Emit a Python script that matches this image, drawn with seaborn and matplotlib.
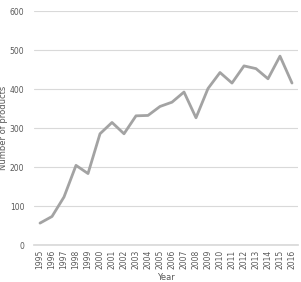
import pandas as pd
import matplotlib

matplotlib.use('Agg')
import matplotlib.pyplot as plt
import seaborn as sns

sns.set_theme(style="white")
plt.rcParams['font.family'] = ['DejaVu Sans']

years = [str(y) for y in range(1995, 2017)]
products = [57, 74, 124, 205, 184, 286, 315, 286, 332, 333, 356,
            367, 393, 327, 402, 443, 416, 460, 453, 427, 485, 416]

df = pd.DataFrame({'Year': years, 'Products': products})

fig, ax = plt.subplots(figsize=(3.01, 2.82), dpi=100)
sns.lineplot(data=df, x='Year', y='Products', color='#a3a3a3', linewidth=2, ax=ax, sort=False)

ax.set_ylim(0, 600)
ax.set_yticks(range(0, 601, 100))
ax.set_xlim(-0.5, len(years) - 0.5)
ax.yaxis.grid(True, color='#d9d9d9', linewidth=0.8)
ax.set_axisbelow(True)
for s in ['top', 'right', 'left']:
    ax.spines[s].set_visible(False)
ax.spines['bottom'].set_color('#d9d9d9')
ax.tick_params(axis='x', labelrotation=90, labelsize=5.5, colors='#595959', length=0, pad=3)
ax.tick_params(axis='y', labelsize=5.5, colors='#595959', length=0, pad=7)
ax.set_xlabel('Year', fontsize=6, color='#595959', labelpad=3)
ax.set_ylabel('Number of products', fontsize=6, color='#595959')
ax.yaxis.set_label_coords(-0.1, 0.5)

plt.subplots_adjust(left=0.113, right=0.99, top=0.96, bottom=0.13)
plt.savefig('out.png')
plt.close()
